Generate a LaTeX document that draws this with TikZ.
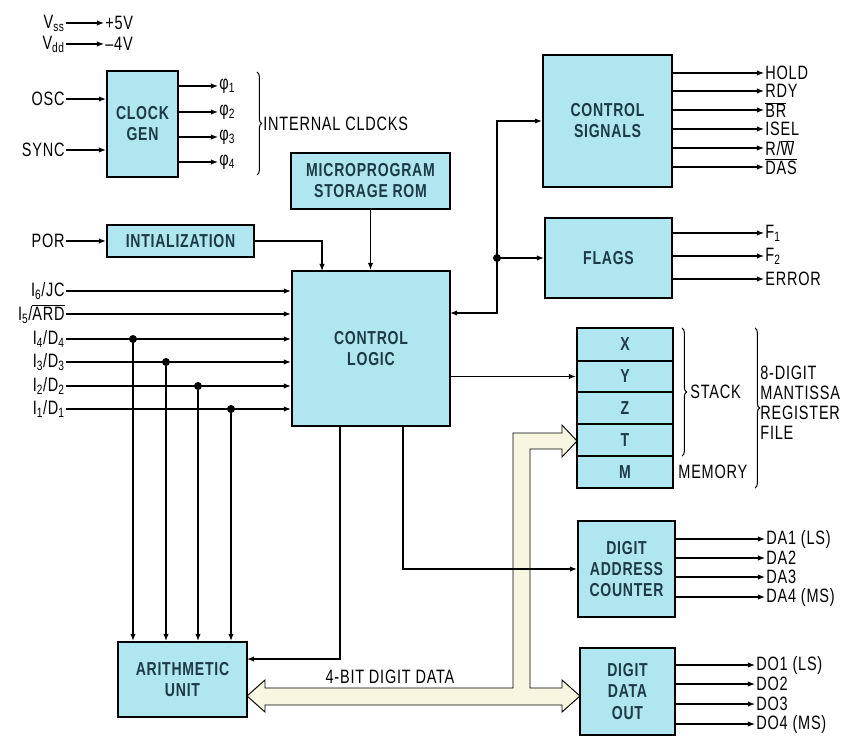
\documentclass[tikz,border=0pt]{standalone}
\usepackage{fontspec}
\setmainfont{Liberation Sans}[FakeStretch=0.75, LetterSpace=4]
\usetikzlibrary{arrows.meta, decorations.pathreplacing}
\definecolor{boxfill}{RGB}{176,230,240}
\definecolor{busfill}{RGB}{248,246,224}
\definecolor{boxtext}{RGB}{28,58,72}
\newcommand{\ovl}[1]{$\overline{\hbox{#1}}$}
\begin{document}
\begin{tikzpicture}[x=0.03cm, y=-0.03cm,
  font=\fontsize{16.5}{18}\selectfont,
  box/.style={draw=black, line width=1.8pt, fill=boxfill, inner sep=0pt, align=center, text=boxtext, font=\fontsize{16}{18}\selectfont\bfseries},
  sz/.style 2 args={minimum width=#1*0.03cm, minimum height=#2*0.03cm},
  lbl/.style={inner sep=1pt},
  wire/.style={line width=0.9pt},
  arr/.style={wire, -{Latex[length=6pt,width=4.5pt]}},
  jdot/.style={circle, fill=black, inner sep=0pt, minimum size=0.24cm},
  brc/.style={wire, decorate, decoration={brace, amplitude=4pt}}]
\useasboundingbox (0,0) rectangle (845,739);

% supply
\node[lbl, anchor=east] (vss) at (66,23) {V\textsubscript{ss}};
\node[lbl, anchor=west] (p5) at (104,23) {+5V};
\node[lbl, anchor=east] (vdd) at (66,44) {V\textsubscript{dd}};
\node[lbl, anchor=west] (m4) at (104,44) {–4V};
\draw[arr] (vss.east) -- (p5.west);
\draw[arr] (vdd.east) -- (m4.west);

% clock gen
\node[box, sz={71}{106}] (clk) at (142.5,124) {CLOCK\\GEN};
\node[lbl, anchor=east] (osc) at (66,99) {OSC};
\node[lbl, anchor=east] (sync) at (66,150) {SYNC};
\draw[arr] (osc.east) -- (osc.east -| clk.west);
\draw[arr] (sync.east) -- (sync.east -| clk.west);
\node[lbl, anchor=west] (ph1) at (218,86) {φ\textsubscript{1}};
\node[lbl, anchor=west] (ph2) at (218,112) {φ\textsubscript{2}};
\node[lbl, anchor=west] (ph3) at (218,137) {φ\textsubscript{3}};
\node[lbl, anchor=west] (ph4) at (218,162) {φ\textsubscript{4}};
\foreach \p in {ph1,ph2,ph3,ph4}{\draw[arr] (clk.east |- \p.west) -- (\p.west);}
\draw[brc] (257,72) -- (257,175);
\node[lbl, anchor=west] (intclk) at (262,124) {INTERNAL CLDCKS};

% ROM, init, control logic
\node[box, sz={159}{56}] (rom) at (370.5,181) {MICROPROGRAM\\STORAGE ROM};
\node[box, sz={158}{155}] (cl) at (371,348.5) {CONTROL\\LOGIC};
\node[box, sz={147}{32}] (init) at (180.5,241) {INTIALIZATION};
\node[lbl, anchor=east] (por) at (66,241) {POR};
\draw[arr] (por.east) -- (init.west);
\coordinate (initin) at (322,271);
\draw[arr] (init.east) -| (initin);
\draw[arr] (rom.south) -- (rom.south |- cl.north);

% inputs
\node[lbl, anchor=east] (in6) at (66,291) {I\textsubscript{6}/JC};
\node[lbl, anchor=east] (in5) at (66,314) {I\textsubscript{5}/\ovl{ARD}};
\node[lbl, anchor=east] (in4) at (66,339) {I\textsubscript{4}/D\textsubscript{4}};
\node[lbl, anchor=east] (in3) at (66,362) {I\textsubscript{3}/D\textsubscript{3}};
\node[lbl, anchor=east] (in2) at (66,386) {I\textsubscript{2}/D\textsubscript{2}};
\node[lbl, anchor=east] (in1) at (66,409) {I\textsubscript{1}/D\textsubscript{1}};
\foreach \p in {in1,in2,in3,in4,in5,in6}{\draw[arr] (\p.east) -- (\p.east -| cl.west);}

% arithmetic unit
\node[box, sz={129}{75}] (au) at (182.5,679.5) {ARITHMETIC\\UNIT};
\node[jdot] (d4) at (133,339) {};
\node[jdot] (d3) at (166,362) {};
\node[jdot] (d2) at (198,386) {};
\node[jdot] (d1) at (231,409) {};
\foreach \p in {d1,d2,d3,d4}{\draw[arr] (\p.center) -- (\p.center |- au.north);}
\coordinate (c1) at (340,426);
\coordinate (au1) at (247,659);
\draw[arr] (c1) |- (au1);

% bus
\draw[line width=0.8pt, fill=busfill, line join=miter]
  (247,696) -- (265,680) -- (265,688) -- (513,688) -- (513,433) -- (562,433) -- (562,425)
  -- (577,441) -- (562,457) -- (562,449) -- (530,449) -- (530,688) -- (562,688) -- (562,680)
  -- (580,696) -- (562,712) -- (562,705) -- (265,705) -- (265,712) -- cycle;
\node[lbl] (busl) at (390,677) {4-BIT DIGIT DATA};

% stack
\node[box, sz={96}{33}] (sx) at (625,344.5) {X};
\node[box, sz={96}{31}] (sy) at (625,376.5) {Y};
\node[box, sz={96}{32}] (sz) at (625,408) {Z};
\node[box, sz={96}{32}] (st) at (625,440) {T};
\node[box, sz={96}{32}] (sm) at (625,472) {M};
\draw[arr] (sy.west -| cl.east) -- (sy.west);
\draw[brc] (682,328) -- (682,456);
\node[lbl, anchor=west] (stk) at (689,392) {STACK};
\node[lbl, anchor=west] (mem) at (677,472) {MEMORY};
\draw[brc] (755,328) -- (755,488);
\node[lbl, anchor=west, align=left, font=\fontsize{16.5}{17}\selectfont] (rf) at (759,403) {8-DIGIT\\MANTISSA\\REGISTER\\FILE};

% control signals / flags
\node[box, sz={129}{132}] (cs) at (607.5,121) {CONTROL\\SIGNALS};
\node[box, sz={127}{80}] (fl) at (608.5,258) {FLAGS};
\node[jdot] (jd) at (497,258) {};
\coordinate (clin) at (450,313);
\draw[arr] (jd.center) |- (cs.west);
\draw[arr] (jd.center) -- (fl.west);
\draw[arr] (jd.center) |- (clin);

\node[lbl, anchor=west] (o1) at (764,73) {HOLD};
\node[lbl, anchor=west] (o2) at (764,91) {RDY};
\node[lbl, anchor=west] (o3) at (764,110) {\ovl{BR}};
\node[lbl, anchor=west] (o4) at (764,129) {ISEL};
\node[lbl, anchor=west] (o5) at (764,148) {R/\ovl{W}};
\node[lbl, anchor=west] (o6) at (764,167) {\ovl{DAS}};
\foreach \p in {o1,o2,o3,o4,o5,o6}{\draw[arr] (cs.east |- \p.west) -- (\p.west);}
\node[lbl, anchor=west] (f1) at (764,233) {F\textsubscript{1}};
\node[lbl, anchor=west] (f2) at (764,256) {F\textsubscript{2}};
\node[lbl, anchor=west] (fe) at (764,279) {ERROR};
\foreach \p in {f1,f2,fe}{\draw[arr] (fl.east |- \p.west) -- (\p.west);}

% digit address counter
\node[box, sz={97}{96}] (dac) at (626.5,569) {DIGIT\\ADDRESS\\COUNTER};
\coordinate (c2) at (403,426);
\draw[arr] (c2) |- (dac.west);
\node[lbl, anchor=west] (a1) at (765,539) {DA1 (LS)};
\node[lbl, anchor=west] (a2) at (765,558) {DA2};
\node[lbl, anchor=west] (a3) at (765,577) {DA3};
\node[lbl, anchor=west] (a4) at (765,597) {DA4 (MS)};
\foreach \p in {a1,a2,a3,a4}{\draw[arr] (dac.east |- \p.west) -- (\p.west);}

% digit data out
\node[box, sz={95}{87}] (ddo) at (627.5,691.5) {DIGIT\\DATA\\OUT};
\node[lbl, anchor=west] (q1) at (755,665) {DO1 (LS)};
\node[lbl, anchor=west] (q2) at (755,684) {DO2};
\node[lbl, anchor=west] (q3) at (755,704) {DO3};
\node[lbl, anchor=west] (q4) at (755,724) {DO4 (MS)};
\foreach \p in {q1,q2,q3,q4}{\draw[arr] (ddo.east |- \p.west) -- (\p.west);}
\end{tikzpicture}
\end{document}
